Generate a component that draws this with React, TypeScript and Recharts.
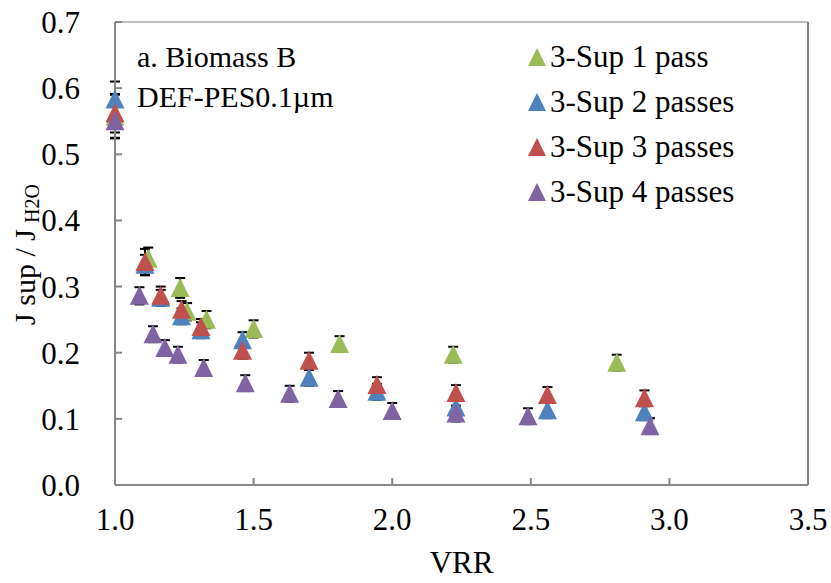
import { ScatterChart, Scatter, XAxis, YAxis, ErrorBar, ReferenceLine, Legend } from 'recharts'

const FONT = '"Liberation Serif", "Times New Roman", serif'
const AXIS = '#868686'

// VRR (x), J sup / J H2O (y) and error bar size
const vrr1 = [1.0, 1.12, 1.235, 1.26, 1.33, 1.5, 1.81, 2.22, 2.81]
const flux1 = [0.557, 0.342, 0.298, 0.262, 0.25, 0.236, 0.213, 0.197, 0.185]
const err1 = [0.033, 0.017, 0.015, 0.013, 0.013, 0.013, 0.012, 0.012, 0.012]

const vrr2 = [1.0, 1.108, 1.165, 1.24, 1.31, 1.46, 1.7, 1.945, 2.23, 2.56, 2.91]
const flux2 = [0.583, 0.333, 0.283, 0.255, 0.234, 0.219, 0.162, 0.141, 0.117, 0.113, 0.11]
const err2 = [0.027, 0.015, 0.012, 0.012, 0.012, 0.012, 0.012, 0.012, 0.012, 0.012, 0.012]

const vrr3 = [1.0, 1.108, 1.165, 1.24, 1.31, 1.46, 1.7, 1.945, 2.23, 2.56, 2.91]
const flux3 = [0.562, 0.337, 0.286, 0.265, 0.239, 0.203, 0.188, 0.151, 0.139, 0.136, 0.131]
const err3 = [0.029, 0.02, 0.014, 0.013, 0.012, 0.012, 0.012, 0.012, 0.012, 0.012, 0.012]

const vrr4 = [1.0, 1.088, 1.137, 1.18, 1.227, 1.32, 1.47, 1.63, 1.805, 2.0, 2.23, 2.49, 2.93]
const flux4 = [0.55, 0.286, 0.228, 0.207, 0.197, 0.177, 0.154, 0.138, 0.13, 0.112, 0.108, 0.104, 0.089]
const err4 = [0.025, 0.013, 0.012, 0.012, 0.012, 0.012, 0.012, 0.012, 0.012, 0.012, 0.012, 0.012, 0.012]

const seriesNames = ['3-Sup 1 pass', '3-Sup 2 passes', '3-Sup 3 passes', '3-Sup 4 passes']
const seriesColors = ['#9BBB59', '#4F81BD', '#C0504D', '#8064A2']

const xTicks = [1.0, 1.5, 2.0, 2.5, 3.0, 3.5]
const yTicks = [0, 0.1, 0.2, 0.3, 0.4, 0.5, 0.6, 0.7]

const rows = (x: number[], y: number[], e: number[]) =>
  x.map((v, i) => ({ vrr: v, flux: y[i], err: e[i] }))

const series = [
  rows(vrr1, flux1, err1),
  rows(vrr2, flux2, err2),
  rows(vrr3, flux3, err3),
  rows(vrr4, flux4, err4),
]

function Triangle(props: any) {
  const { cx, cy, fill } = props
  if (cx == null || cy == null) return null
  return (
    <polygon
      points={`${cx},${cy - 10} ${cx - 9.5},${cy + 9} ${cx + 9.5},${cy + 9}`}
      fill={fill}
    />
  )
}

function LegendBox() {
  return (
    <div style={{ fontFamily: FONT, fontSize: 31, color: '#000' }}>
      {seriesNames.map((name, i) => (
        <div key={name} style={{ display: 'flex', alignItems: 'center', height: 45 }}>
          <svg width={20} height={20} style={{ marginRight: 3 }}>
            <polygon points="10,1 1,19 19,19" fill={seriesColors[i]} />
          </svg>
          <span>{name}</span>
        </div>
      ))}
    </div>
  )
}

function YTitle(props: any) {
  const vb = props.viewBox || { x: 45, y: 22, width: 70, height: 463 }
  const x = vb.x - 21
  const y = vb.y + vb.height / 2 + 1
  return (
    <text
      x={x}
      y={y}
      transform={`rotate(-90, ${x}, ${y})`}
      textAnchor="middle"
      dominantBaseline="central"
      fontFamily={FONT}
      fontSize={30}
      fill="#000"
    >
      J sup / J<tspan dx={6} dy={8} fontSize={20}>H2O</tspan>
    </text>
  )
}

export default function App() {
  return (
    <div style={{ position: 'absolute', left: 0, top: 0, width: 831, height: 583, background: '#fff' }}>
      <ScatterChart width={831} height={583} margin={{ top: 22, right: 23, left: 45, bottom: 38 }}>
        <XAxis
          type="number"
          dataKey="vrr"
          domain={[1, 3.5]}
          ticks={xTicks}
          tickFormatter={(v) => v.toFixed(1)}
          tick={{ fontFamily: FONT, fontSize: 31, fill: '#000' }}
          axisLine={{ stroke: AXIS, strokeWidth: 2 }}
          tickLine={{ stroke: AXIS, strokeWidth: 2 }}
          tickSize={-7}
          tickMargin={30}
          height={60}
          label={{ value: 'VRR', position: 'bottom', offset: 6, fontFamily: FONT, fontSize: 31, fill: '#000' }}
        />
        <YAxis
          type="number"
          dataKey="flux"
          domain={[0, 0.7]}
          ticks={yTicks}
          tickFormatter={(v) => v.toFixed(1)}
          tick={{ fontFamily: FONT, fontSize: 31, fill: '#000' }}
          axisLine={{ stroke: AXIS, strokeWidth: 2 }}
          tickLine={{ stroke: AXIS, strokeWidth: 2 }}
          tickSize={-7}
          tickMargin={42}
          width={70}
          label={<YTitle />}
        />
        <ReferenceLine y={0.7} stroke="#BFBFBF" strokeWidth={2} />
        <ReferenceLine x={3.5} stroke={AXIS} strokeWidth={2} />
        <Legend
          layout="vertical"
          align="center"
          verticalAlign="middle"
          wrapperStyle={{ left: 527, top: 34 }}
          content={<LegendBox />}
        />
        {series.map((data, i) => (
          <Scatter
            key={seriesNames[i]}
            name={seriesNames[i]}
            data={data}
            fill={seriesColors[i]}
            shape={<Triangle />}
            isAnimationActive={false}
          >
            <ErrorBar dataKey="err" direction="y" width={5} stroke="#000" strokeWidth={2} />
          </Scatter>
        ))}
      </ScatterChart>
      <div
        style={{
          position: 'absolute',
          left: 137,
          top: 37,
          fontFamily: FONT,
          fontSize: 30,
          lineHeight: '40px',
          color: '#000',
        }}
      >
        <div>a. Biomass B</div>
        <div>DEF-PES0.1µm</div>
      </div>
    </div>
  )
}
